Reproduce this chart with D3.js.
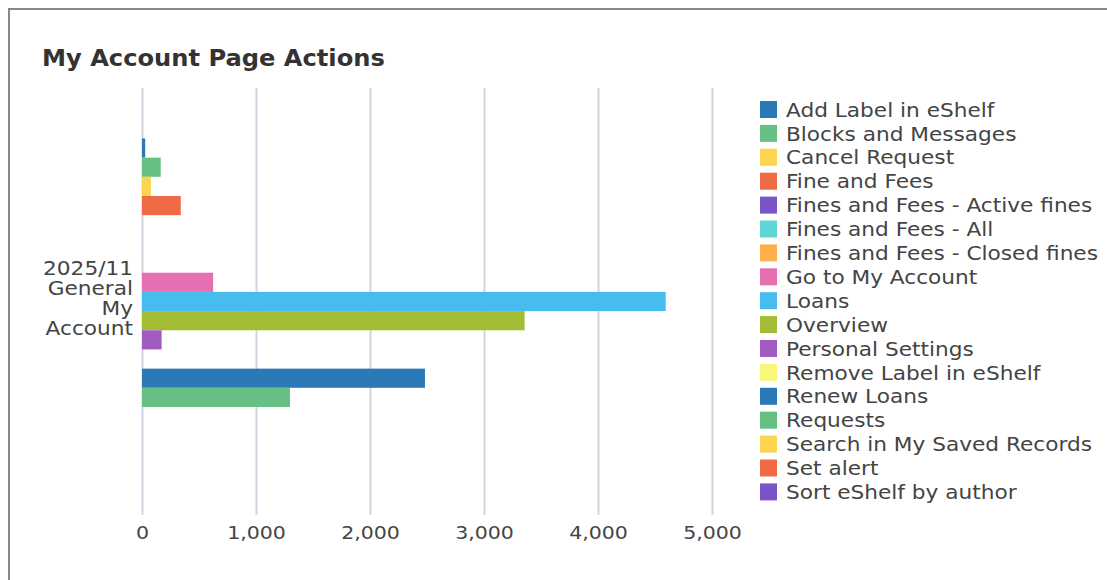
<!DOCTYPE html>
<html>
<head>
<meta charset="utf-8">
<title>My Account Page Actions</title>
<script src="https://d3js.org/d3.v7.min.js"></script>
<style>
  body { margin: 0; background: #fff; font-family: "DejaVu Sans", Verdana, sans-serif; }
  #frame { position: absolute; left: 8px; top: 8px; width: 1110px; height: 600px; border: 2px solid #888; box-sizing: border-box; }
</style>
</head>
<body>
<div id="frame"></div>
<div id="main" style="position:absolute;left:0;top:0;"></div>
<script>
	var screenWidth  = 1107;
	var screenHeight = 580;
	var stretch      = "scale(1.14,1)";   // the text in the picture is drawn a bit wide

	// data
	var categories = ["2025/11 General My Account"];
	var series = ["Add Label in eShelf", "Blocks and Messages", "Cancel Request", "Fine and Fees",
		"Fines and Fees - Active fines", "Fines and Fees - All", "Fines and Fees - Closed fines",
		"Go to My Account", "Loans", "Overview", "Personal Settings", "Remove Label in eShelf",
		"Renew Loans", "Requests", "Search in My Saved Records", "Set alert", "Sort eShelf by author"];
	var values = [28, 164, 78, 340, 0, 0, 0, 624, 4594, 3356, 172, 0, 2482, 1298, 0, 0, 0];
	var xTicks = [0, 1000, 2000, 3000, 4000, 5000];
	var colours = ["#2a7ab8", "#66c083", "#fcd550", "#f06a45", "#7a55c8", "#5fd6d6",
		"#fdb04a", "#e46fb1", "#46bdee", "#a2bd34", "#a05cc0", "#f8f77a"];

	var svg = d3.select("#main").append("svg")
		.attr("width", screenWidth)
		.attr("height", screenHeight);

	var xScale = d3.scaleLinear().domain([0, 5000]).range([142, 712]);
	var yOuter = d3.scaleBand().domain(categories).range([88, 515]).paddingInner(0.134).paddingOuter(0.134);
	var yInner = d3.scaleBand().domain(series).range([0, yOuter.bandwidth()]);
	var colour = d3.scaleOrdinal().domain(series).range(colours);

	// title
	svg.append("text")
		.attr("transform", "translate(42,66) scale(1.05,1)")
		.attr("font-size", 23).attr("font-weight", "bold").attr("fill", "#333")
		.text("My Account Page Actions");

	// grid + x axis
	var xAxis = d3.axisBottom(xScale).tickValues(xTicks)
		.tickSize(515 - 88).tickFormat(d3.format(","));
	var gx = svg.append("g").attr("transform", "translate(0,88)").call(xAxis);
	gx.select(".domain").remove();
	gx.selectAll(".tick line").attr("stroke", "#cfd6e1").attr("stroke-width", 2);
	gx.selectAll(".tick text")
		.attr("y", null).attr("dy", null)
		.attr("transform", "translate(0,451) " + stretch)
		.attr("font-size", 18).attr("fill", "#444")
		.attr("font-family", "DejaVu Sans, sans-serif");

	// bars
	var groups = svg.selectAll("g.cat").data(categories).enter().append("g")
		.attr("class", "cat")
		.attr("transform", d => "translate(0," + yOuter(d) + ")");

	groups.selectAll("rect").data(series.map((s, i) => ({ s: s, v: values[i] })))
		.enter().append("rect")
		.attr("x", xScale(0))
		.attr("y", d => yInner(d.s))
		.attr("width", d => xScale(d.v) - xScale(0))
		.attr("height", yInner.bandwidth())
		.attr("fill", d => colour(d.s));

	// category label (wrapped)
	var labelLines = ["2025/11", "General", "My", "Account"];
	var cy = yOuter(categories[0]) + yOuter.bandwidth() / 2 - 3;
	svg.append("g").attr("transform", "translate(133,0) " + stretch)
		.append("text")
		.attr("text-anchor", "end").attr("font-size", 19).attr("fill", "#444")
		.selectAll("tspan").data(labelLines).enter().append("tspan")
		.attr("x", 0)
		.attr("y", (d, i) => cy + (i - 1.5) * 20)
		.attr("dy", "0.35em")
		.text(d => d);

	// legend
	var legend = svg.append("g").attr("transform", "translate(760,101)");
	var items = legend.selectAll("g").data(series).enter().append("g")
		.attr("transform", (d, i) => "translate(0," + (i * 23.9) + ")");
	items.append("rect").attr("width", 17).attr("height", 17).attr("fill", d => colour(d));
	items.append("text").attr("transform", "translate(26,9) " + stretch).attr("dy", "0.35em")
		.attr("font-size", 19).attr("fill", "#444").text(d => d);
</script>
</body>
</html>
